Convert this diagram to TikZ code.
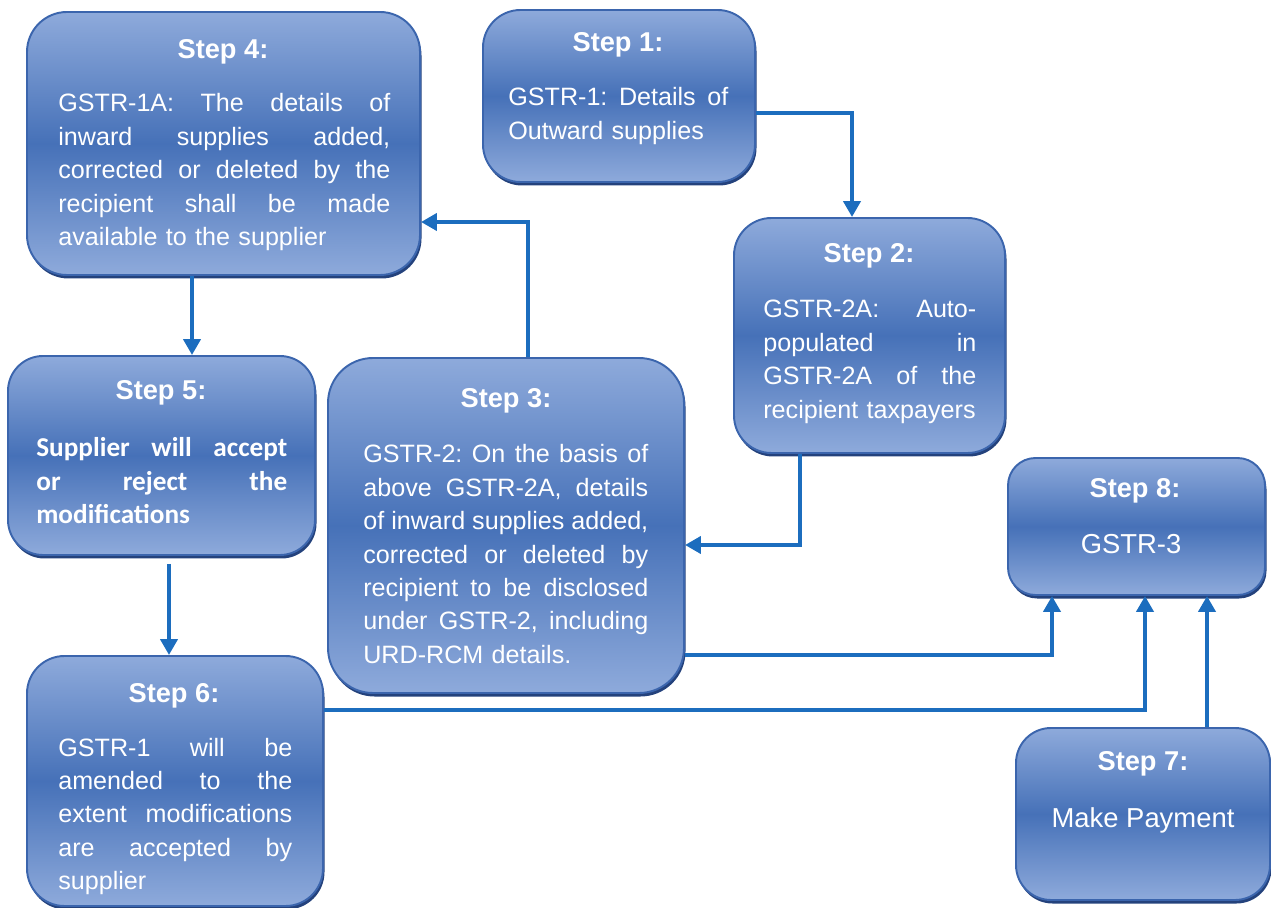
\documentclass[tikz,border=0pt]{standalone}
\usepackage{fontspec}
\setmainfont{Liberation Sans}
\newfontfamily\calibrifont{Carlito}
\usetikzlibrary{arrows.meta,fit,shadows}
\definecolor{BoxLight}{HTML}{8EAADB}
\definecolor{BoxDark}{HTML}{4671B8}
\definecolor{BoxEdge}{HTML}{3B65AD}
\definecolor{BoxShadow}{HTML}{24427C}
\definecolor{ArrowBlue}{HTML}{1C6DBE}
\frenchspacing
\newcommand{\jline}[1]{\makebox[\linewidth][s]{\spaceskip=0pt\xspaceskip=0pt #1}\\}
\tikzset{stepbox/.style={draw=BoxEdge,line width=1.1pt,rounded corners=.75cm,inner sep=0pt,top color=BoxLight,bottom color=BoxLight,middle color=BoxDark,drop shadow={shadow xshift=.03cm,shadow yshift=-.07cm,fill=BoxShadow,opacity=1}},steptitle/.style={text=white,font=\bfseries\fontsize{15.5}{19}\selectfont,anchor=base,inner sep=0pt},steptext/.style={text=white,font=\fontsize{14.3}{19}\selectfont,anchor=base west,inner sep=0pt,align=left},flow/.style={-{Triangle[length=.32cm,width=.34cm]},line width=.095cm,draw=ArrowBlue}}
\begin{document}
\begin{tikzpicture}[x=.02cm,y=-.02cm]
  \useasboundingbox (0,0) rectangle (1271,908);
  \node[stepbox,fit={(483,10) (755,182)}](s1){};
  \node[stepbox,fit={(734,218) (1005,453)}](s2){};
  \node[stepbox,rounded corners=.9cm,fit={(328,358) (684,693)}](s3){};
  \node[stepbox,rounded corners=.8cm,fit={(27,12) (420,275)}](s4){};
  \node[stepbox,rounded corners=.7cm,fit={(8,356) (315,555)}](s5){};
  \node[stepbox,fit={(27,656) (323,906)}](s6){};
  \node[stepbox,rounded corners=.7cm,fit={(1016,728) (1270,900)}](s7){};
  \node[stepbox,rounded corners=.55cm,fit={(1008,458) (1265,595)}](s8){};
  \node[steptitle](s1t) at (618,52){Step 1:};
  \node[steptext,text width=4.4cm](s1b) at (508,106){\jline{GSTR-1: Details of}Outward supplies};
  \node[steptitle](s2t) at (869,263){Step 2:};
  \node[steptext,text width=4.26cm](s2b) at (763,318){\jline{GSTR-2A: Auto-}\jline{populated in}\jline{GSTR-2A of the}recipient taxpayers};
  \node[steptitle](s3t) at (506,408){Step 3:};
  \node[steptext,text width=5.7cm](s3b) at (363,463){\jline{GSTR-2: On the basis of}\jline{above GSTR-2A, details}\jline{of inward supplies added,}\jline{corrected or deleted by}\jline{recipient to be disclosed}\jline{under GSTR-2, including}URD-RCM details.};
  \node[steptitle](s4t) at (223,59){Step 4:};
  \node[steptext,text width=6.64cm](s4b) at (58,112){\jline{GSTR-1A: The details of}\jline{inward supplies added,}\jline{corrected or deleted by the}\jline{recipient shall be made}available to the supplier};
  \node[steptitle](s5t) at (161,400){Step 5:};
  \node[steptext,text width=5.02cm,font=\calibrifont\bfseries\fontsize{15.5}{19}\selectfont](s5b) at (36,457){\jline{Supplier will accept}\jline{or reject the}modifications};
  \node[steptitle](s6t) at (174,702){Step 6:};
  \node[steptext,text width=4.68cm](s6b) at (58,756){\jline{GSTR-1 will be}\jline{amended to the}\jline{extent modifications}\jline{are accepted by}supplier};
  \node[steptitle](s7t) at (1143,770){Step 7:};
  \node[steptext,anchor=base,font=\fontsize{15.6}{19}\selectfont](s7b) at (1143,827){Make Payment};
  \node[steptitle](s8t) at (1135,498){Step 8:};
  \node[steptext,anchor=base,font=\fontsize{15.6}{19}\selectfont](s8b) at (1131,554){GSTR-3};
  \coordinate(k12) at (852,113);
  \coordinate(k23) at (800,545);
  \coordinate(k34) at (528,222);
  \coordinate(k45) at (192,300);
  \coordinate(k56) at (169,600);
  \coordinate(k38) at (1052,655);
  \coordinate(k68) at (1145,710);
  \coordinate(k78) at (1207,650);
  \draw[flow](s1.east|-k12)--(k12)--(k12|-s2.north);
  \draw[flow](s2.south-|k23)--(k23)--(k23-|s3.east);
  \draw[flow](s3.north-|k34)--(k34)--(k34-|s4.east);
  \draw[flow](s4.south-|k45)--(k45|-s5.north);
  \draw[flow,shorten <=.16cm](s5.south-|k56)--(k56|-s6.north);
  \draw[flow](s3.east|-k38)--(k38)--(k38|-s8.south);
  \draw[flow](s6.east|-k68)--(k68)--(k68|-s8.south);
  \draw[flow](s7.north-|k78)--(k78|-s8.south);
\end{tikzpicture}
\end{document}
